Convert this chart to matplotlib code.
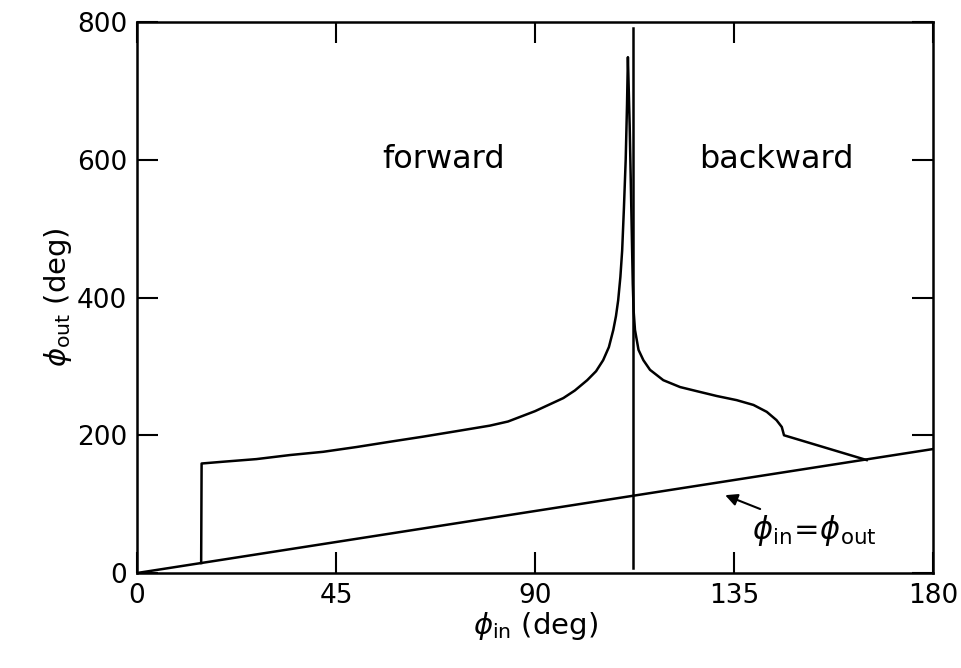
import matplotlib
matplotlib.use('Agg')
import matplotlib.pyplot as plt
import numpy as np

# curve (phi_in, phi_out) in degrees
curve_in = [14.5, 14.6, 19.5, 27.0, 34.6, 42.1, 49.7, 57.2, 64.7, 72.3, 79.8, 83.9,
            90.0, 96.4, 99.0, 101.8, 103.8, 105.4, 106.7, 107.7, 108.3, 108.8,
            109.3, 109.7, 110.1, 110.5, 110.8, 111.0,
            111.4, 111.8, 112.1, 112.3, 112.6, 113.4, 114.5, 116.0, 119.0, 122.8,
            126.6, 131.1, 135.6, 139.4, 142.4, 144.6, 145.8, 146.3, 165.0]
curve_out = [14.5, 159, 161.6, 165.4, 171.3, 176, 183, 190.6, 198, 206, 214, 220,
             235, 254, 265, 280, 293, 309, 328, 353, 373, 396,
             430, 468, 530, 600, 680, 749,
             650, 520, 420, 380, 353, 324, 309, 295, 280, 270,
             264, 257, 251, 244, 234, 222, 212, 200, 164]

# vertical line at the pole
pole_x = 112.1
pole_y = [8, 791]

diag = [0, 180]

xticks = [0, 45, 90, 135, 180]
yticks = [0, 200, 400, 600, 800]

fig = plt.figure(figsize=(9.61, 6.68), dpi=100)
ax = fig.add_axes([0.1426, 0.1422, 0.8283, 0.8248])

ax.plot(curve_in, curve_out, color='black', lw=1.8)
ax.plot([pole_x, pole_x], pole_y, color='black', lw=1.8)
ax.plot(diag, diag, color='black', lw=1.8)

ax.set_xlim(0, 180)
ax.set_ylim(0, 800)
ax.set_xticks(xticks)
ax.set_yticks(yticks)
ax.tick_params(direction='in', length=15, width=1.5, top=True, right=True,
               labelsize=19, pad=7)
for sp in ax.spines.values():
    sp.set_linewidth(1.8)

ax.set_xlabel(r'$\phi_{\rm in}$ (deg)', fontsize=21, labelpad=1)
ax.set_ylabel(r'$\phi_{\rm out}$ (deg)', fontsize=21, labelpad=2)

ax.text(69.4, 600, 'forward', fontsize=23, ha='center', va='center')
ax.text(144.5, 600, 'backward', fontsize=23, ha='center', va='center')

ax.annotate(r'$\phi_{\rm in}\!=\!\phi_{\rm out}$', xy=(133, 113), xytext=(139, 62),
            fontsize=22, ha='left', va='center',
            arrowprops=dict(arrowstyle='-|>', color='black', lw=1.5,
                            mutation_scale=18, shrinkA=2, shrinkB=0))

plt.savefig('out.png', dpi=100)
